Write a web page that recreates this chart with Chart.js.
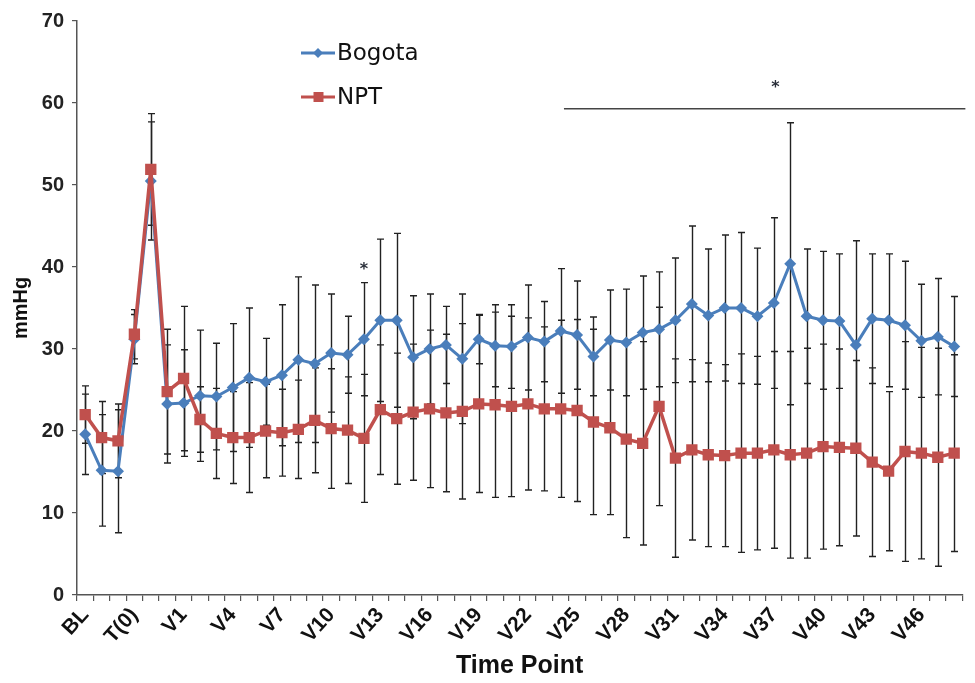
<!DOCTYPE html>
<html>
<head>
<meta charset="utf-8">
<script src="https://cdn.jsdelivr.net/npm/chart.js@4.4.1/dist/chart.umd.min.js"></script>
<style>
  html, body { margin: 0; padding: 0; background: #fff; }
  #wrap { width: 975px; height: 683px; position: relative; }
</style>
</head>
<body>
<div id="wrap"><canvas id="pressureChart"></canvas></div>
<script>
// time points (only every third one is labelled on the axis)
const timePoints = [
    'BL', 'P1', 'P2', 'T(0)', 'T(1)', 'T(2)',
    'V1', 'V2', 'V3', 'V4', 'V5', 'V6', 'V7', 'V8', 'V9', 'V10',
    'V11', 'V12', 'V13', 'V14', 'V15', 'V16', 'V17', 'V18', 'V19', 'V20',
    'V21', 'V22', 'V23', 'V24', 'V25', 'V26', 'V27', 'V28', 'V29', 'V30',
    'V31', 'V32', 'V33', 'V34', 'V35', 'V36', 'V37', 'V38', 'V39', 'V40',
    'V41', 'V42', 'V43', 'V44', 'V45', 'V46', 'V47', 'V48'
];

// mean values (mmHg)
const bogota = [
    19.6, 15.2, 15.1, 31.2, 50.5, 23.3, 23.4, 24.3, 24.2, 25.3,
    26.5, 26.0, 26.8, 28.7, 28.2, 29.5, 29.3, 31.2, 33.5, 33.5,
    29.0, 30.0, 30.5, 28.8, 31.2, 30.4, 30.3, 31.4, 30.9, 32.2,
    31.7, 29.1, 31.1, 30.8, 32.0, 32.4, 33.5, 35.5, 34.1, 35.0,
    35.0, 34.0, 35.6, 40.4, 34.0, 33.5, 33.4, 30.5, 33.7, 33.5,
    32.9, 31.0, 31.5, 30.3
];
const npt = [
    22.0, 19.2, 18.8, 31.8, 51.9, 24.8, 26.4, 21.4, 19.7, 19.2,
    19.2, 20.0, 19.8, 20.2, 21.3, 20.3, 20.1, 19.1, 22.6, 21.5,
    22.3, 22.7, 22.2, 22.4, 23.3, 23.2, 23.0, 23.3, 22.7, 22.7,
    22.5, 21.1, 20.4, 19.0, 18.5, 23.0, 16.7, 17.7, 17.1, 17.0,
    17.3, 17.3, 17.7, 17.1, 17.3, 18.1, 18.0, 17.9, 16.2, 15.1,
    17.5, 17.3, 16.8, 17.3
];

// standard deviations for the error bars
const bogotaSD = [
    4.9, 6.8, 7.5, 3.0, 7.2, 7.2, 6.5, 8.0, 6.5, 7.8,
    8.5, 5.3, 8.6, 10.1, 9.6, 7.2, 4.7, 6.9, 9.9, 10.6,
    7.5, 6.7, 4.7, 7.9, 3.0, 5.0, 5.1, 6.4, 4.9, 7.6,
    6.6, 4.8, 6.1, 6.5, 6.9, 7.0, 7.6, 9.5, 8.1, 8.9,
    9.2, 8.3, 10.4, 17.2, 8.2, 8.4, 8.2, 12.7, 7.9, 8.1,
    7.8, 6.9, 7.1, 6.1
];
const nptSD = [
    3.5, 4.4, 4.5, 3.0, 6.8, 7.6, 8.8, 4.0, 5.5, 5.6,
    6.7, 5.7, 5.3, 6.0, 6.4, 7.3, 6.5, 7.8, 7.9, 8.0,
    8.3, 9.6, 9.6, 10.7, 10.8, 11.3, 11.0, 10.5, 10.0, 10.8,
    11.1, 11.3, 10.6, 12.0, 12.4, 12.1, 12.1, 11.0, 11.2, 11.1,
    12.1, 11.8, 12.0, 12.6, 12.8, 12.5, 12.0, 10.7, 11.5, 9.7,
    13.4, 12.9, 13.3, 12.0
];

// significance marks: [index on x, value]
const singleStar = [17, 40.0];
const rangeStar = [42.1, 62.2];
const rangeLine = [29.2, 59.3];   // starts here, runs to the right edge

const BLUE = '#4a7ebb';
const RED = '#c0504d';

const errorBars = {
    id: 'errorBars',
    beforeDatasetsDraw(chart) {
        const { ctx, scales: { x, y } } = chart;
        ctx.save();
        ctx.strokeStyle = '#222';
        ctx.lineWidth = 1.4;
        [[bogota, bogotaSD], [npt, nptSD]].forEach(([vals, sds]) => {
            vals.forEach((v, i) => {
                const px = Math.round(x.getPixelForValue(i)) + 0.5;
                const top = y.getPixelForValue(v + sds[i]);
                const bot = y.getPixelForValue(v - sds[i]);
                ctx.beginPath();
                ctx.moveTo(px, top);
                ctx.lineTo(px, bot);
                ctx.moveTo(px - 3.5, top);
                ctx.lineTo(px + 3.5, top);
                ctx.moveTo(px - 3.5, bot);
                ctx.lineTo(px + 3.5, bot);
                ctx.stroke();
            });
        });
        ctx.restore();
    }
};

const annotations = {
    id: 'annotations',
    afterDraw(chart) {
        const { ctx, chartArea, scales: { x, y } } = chart;
        ctx.save();

        // significance bar
        ctx.strokeStyle = '#444';
        ctx.lineWidth = 1.5;
        ctx.beginPath();
        ctx.moveTo(x.getPixelForValue(rangeLine[0]), y.getPixelForValue(rangeLine[1]));
        ctx.lineTo(chartArea.right + 3, y.getPixelForValue(rangeLine[1]));
        ctx.stroke();

        ctx.fillStyle = '#2a2f3a';
        ctx.font = 'bold 16px "DejaVu Sans"';
        ctx.textAlign = 'center';
        ctx.textBaseline = 'middle';
        ctx.fillText('*', x.getPixelForValue(rangeStar[0]), y.getPixelForValue(rangeStar[1]) + 3);
        ctx.fillText('*', x.getPixelForValue(singleStar[0]), y.getPixelForValue(singleStar[1]) + 3);

        // legend
        const items = [
            { label: 'Bogota', color: BLUE, y: 53, shape: 'diamond' },
            { label: 'NPT', color: RED, y: 97, shape: 'square' }
        ];
        items.forEach(it => {
            ctx.strokeStyle = it.color;
            ctx.fillStyle = it.color;
            ctx.lineWidth = 3;
            ctx.beginPath();
            ctx.moveTo(301, it.y);
            ctx.lineTo(335, it.y);
            ctx.stroke();
            ctx.beginPath();
            if (it.shape === 'diamond') {
                ctx.moveTo(318, it.y - 5);
                ctx.lineTo(323, it.y);
                ctx.lineTo(318, it.y + 5);
                ctx.lineTo(313, it.y);
                ctx.closePath();
            } else {
                ctx.rect(313.5, it.y - 5, 10, 10);
            }
            ctx.fill();
            ctx.fillStyle = '#111';
            ctx.font = '23px "DejaVu Sans"';
            ctx.textAlign = 'left';
            ctx.textBaseline = 'middle';
            ctx.fillText(it.label, 337, it.y + 1);
        });
        ctx.restore();
    }
};

new Chart(document.getElementById('pressureChart'), {
    type: 'line',
    data: {
        labels: timePoints,
        datasets: [
            {
                label: 'Bogota',
                data: bogota,
                borderColor: BLUE,
                backgroundColor: BLUE,
                borderWidth: 3,
                pointStyle: 'rectRot',
                pointRadius: 6,
                pointBorderWidth: 0,
                tension: 0,
                order: 1
            },
            {
                label: 'NPT',
                data: npt,
                borderColor: RED,
                backgroundColor: RED,
                borderWidth: 3.5,
                pointStyle: 'rect',
                pointRadius: 8,
                pointBorderWidth: 0,
                tension: 0,
                order: 0
            }
        ]
    },
    options: {
        responsive: true,
        maintainAspectRatio: false,
        animation: false,
        layout: { padding: { left: 0, right: 10, top: 21, bottom: 0 } },
        plugins: {
            legend: { display: false },
            tooltip: { enabled: false }
        },
        scales: {
            x: {
                offset: true,
                grid: {
                    offset: true,
                    drawOnChartArea: false,
                    drawTicks: true,
                    tickLength: 6,
                    color: '#555',
                    lineWidth: 1.2
                },
                border: { color: '#555', width: 1.5 },
                ticks: {
                    autoSkip: false,
                    minRotation: 48,
                    maxRotation: 48,
                    padding: 2,
                    color: '#111',
                    font: { family: 'Liberation Sans', size: 21, weight: 'bold' },
                    callback: function (val, idx) {
                        return idx % 3 === 0 ? this.getLabelForValue(val) : '';
                    }
                },
                title: {
                    display: true,
                    text: 'Time Point',
                    color: '#111',
                    font: { family: 'Liberation Sans', size: 25, weight: 'bold' },
                    padding: { top: 0, bottom: 2 }
                },
                afterFit: s => { s.height = 88; }
            },
            y: {
                min: 0,
                max: 70,
                grid: {
                    drawOnChartArea: false,
                    drawTicks: true,
                    tickLength: 5,
                    color: '#555',
                    lineWidth: 1.2
                },
                border: { color: '#555', width: 1.5 },
                ticks: {
                    stepSize: 10,
                    padding: 8,
                    color: '#222',
                    font: { family: 'Liberation Sans', size: 20, weight: 'bold' }
                },
                title: {
                    display: true,
                    text: 'mmHg',
                    color: '#111',
                    font: { family: 'Liberation Sans', size: 20, weight: 'bold' },
                    padding: { top: 9, bottom: 4 }
                },
                afterFit: s => { s.width = 77; }
            }
        }
    },
    plugins: [errorBars, annotations]
});
</script>
</body>
</html>
